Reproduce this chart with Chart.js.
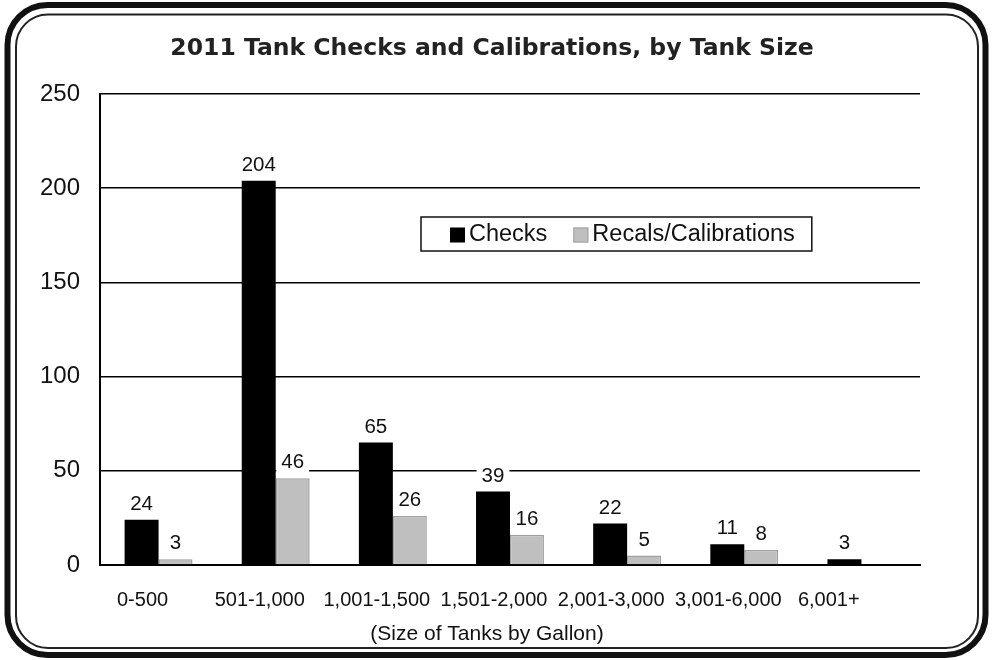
<!DOCTYPE html>
<html>
<head>
<meta charset="utf-8">
<script src="https://cdn.jsdelivr.net/npm/chart.js@4"></script>
<style>
  html, body { margin: 0; padding: 0; background: #fff; }
  #wrap { width: 996px; height: 660px; }
</style>
</head>
<body>
<div id="wrap"><canvas id="tankChart" width="996" height="660"></canvas></div>
<script>
const sizes = ['0-500', '501-1,000', '1,001-1,500', '1,501-2,000', '2,001-3,000', '3,001-6,000', '6,001+'];
const checks = [24, 204, 65, 39, 22, 11, 3];
const recals = [3, 46, 26, 16, 5, 8, null];
const yTicks = [0, 50, 100, 150, 200, 250];

const chartTitle = '2011 Tank Checks and Calibrations, by Tank Size';
const xTitle = '(Size of Tanks by Gallon)';

const SANS = '"Liberation Sans", Arial, sans-serif';

// rounded double frame + the two titles (they sit a bit left of the plot centre)
const framePlugin = {
  id: 'frame',
  beforeDraw(chart) {
    const ctx = chart.ctx;
    ctx.save();
    ctx.fillStyle = '#fff';
    ctx.fillRect(0, 0, chart.width, chart.height);
    ctx.strokeStyle = '#111';
    ctx.lineWidth = 6;
    ctx.beginPath();
    ctx.roundRect(7.5, 5, 978, 650, 40);
    ctx.stroke();
    ctx.lineWidth = 2;
    ctx.strokeStyle = '#222';
    ctx.beginPath();
    ctx.roundRect(16, 14.5, 962, 633.5, 32);
    ctx.stroke();
    ctx.restore();
  },
  afterDraw(chart) {
    const ctx = chart.ctx;
    const area = chart.chartArea;
    ctx.save();
    ctx.textAlign = 'center';
    ctx.textBaseline = 'middle';
    ctx.fillStyle = '#222';
    ctx.font = 'bold 23.5px "DejaVu Sans", Verdana, sans-serif';
    ctx.fillText(chartTitle, chart.width / 2 - 6, 49);
    ctx.fillStyle = '#111';
    ctx.font = '21px ' + SANS;
    ctx.fillText(xTitle, (area.left + area.right) / 2 - 23, 634);
    ctx.restore();
  }
};

// value labels above each bar, with a white box so gridlines break
const valuePlugin = {
  id: 'values',
  afterDatasetsDraw(chart) {
    const ctx = chart.ctx;
    ctx.save();
    ctx.font = '20.5px ' + SANS;
    ctx.textAlign = 'center';
    ctx.textBaseline = 'alphabetic';
    chart.data.datasets.forEach((ds, i) => {
      chart.getDatasetMeta(i).data.forEach((bar, j) => {
        const v = ds.data[j];
        if (v === null || v === undefined) return;
        const txt = String(v);
        const w = ctx.measureText(txt).width;
        const base = bar.y - 10;
        ctx.fillStyle = '#fff';
        ctx.fillRect(bar.x - w / 2 - 5, base - 18, w + 10, 23);
        ctx.fillStyle = '#111';
        ctx.fillText(txt, bar.x, base);
      });
    });
    ctx.restore();
  }
};

// boxed legend sitting inside the plot
const boxLegend = {
  id: 'boxLegend',
  afterDraw(chart) {
    const ctx = chart.ctx;
    const area = chart.chartArea;
    ctx.save();
    ctx.font = '23.5px ' + SANS;
    ctx.textBaseline = 'middle';
    const names = chart.data.datasets.map(d => d.label);
    const widths = names.map(n => ctx.measureText(n).width);
    const box = 15, gap = 4, between = 26;
    let total = 29 + 17;
    widths.forEach((w, i) => { total += box + gap + w + (i ? between : 0); });
    const x0 = area.left + 321, y0 = area.top + 123, h = 34;
    ctx.fillStyle = '#fff';
    ctx.fillRect(x0, y0, total, h);
    ctx.strokeStyle = '#111';
    ctx.lineWidth = 1.5;
    ctx.strokeRect(x0, y0, total, h);
    let x = x0 + 29;
    const cy = y0 + h / 2 + 1;
    chart.data.datasets.forEach((ds, i) => {
      ctx.fillStyle = ds.backgroundColor;
      ctx.fillRect(x, cy - 7.5, box, box);
      if (ds.borderWidth) {
        ctx.strokeStyle = ds.borderColor;
        ctx.lineWidth = 1;
        ctx.strokeRect(x + 0.5, cy - 7, box - 1, box - 1);
      }
      x += box + gap;
      ctx.fillStyle = '#111';
      ctx.fillText(names[i], x, cy);
      x += widths[i] + between;
    });
    ctx.restore();
  }
};

new Chart(document.getElementById('tankChart'), {
  type: 'bar',
  data: {
    labels: sizes,
    datasets: [
      {
        label: 'Checks',
        data: checks,
        backgroundColor: '#000',
        borderWidth: 0
      },
      {
        label: 'Recals/Calibrations',
        data: recals,
        backgroundColor: '#bfbfbf',
        borderColor: '#a0a0a0',
        borderWidth: 1.5
      }
    ]
  },
  options: {
    responsive: false,
    animation: false,
    events: [],
    layout: { padding: { left: 0, right: 76, top: 94, bottom: 0 } },
    datasets: {
      bar: { categoryPercentage: 0.58, barPercentage: 1 }
    },
    scales: {
      x: {
        grid: { display: false, drawTicks: false },
        border: { display: true, color: '#000', width: 2 },
        ticks: {
          padding: 23,
          labelOffset: -16,
          maxRotation: 0,
          color: '#111',
          font: { family: SANS, size: 20 },
          // last label sits further left in the original
          callback(value, index) {
            const s = this.getLabelForValue(value);
            return index === sizes.length - 1 ? s + '\u00a0'.repeat(6) : s;
          }
        },
        afterFit(scale) { scale.height = 95; }
      },
      y: {
        min: 0,
        max: 250,
        afterBuildTicks(scale) { scale.ticks = yTicks.map(v => ({ value: v })); },
        grid: { color: '#000', lineWidth: 1.5, drawTicks: false },
        border: { display: true, color: '#000', width: 2 },
        ticks: { padding: 20, color: '#111', font: { family: SANS, size: 24 } },
        afterFit(scale) { scale.width = 100; }
      }
    },
    plugins: {
      legend: { display: false },
      tooltip: { enabled: false },
      title: { display: false }
    }
  },
  plugins: [framePlugin, valuePlugin, boxLegend]
});
</script>
</body>
</html>
